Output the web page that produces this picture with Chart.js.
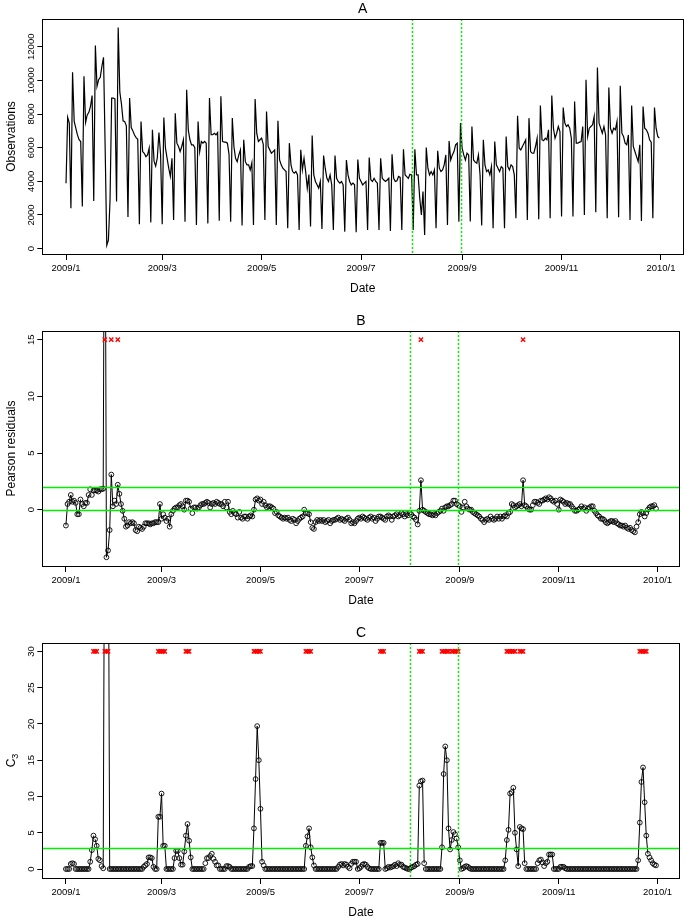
<!DOCTYPE html>
<html>
<head>
<meta charset="utf-8">
<script src="https://cdn.jsdelivr.net/npm/chart.js@4.4.1/dist/chart.umd.min.js"></script>
<style>
  html, body { margin: 0; padding: 0; background: #fff; }
  #wrap { position: relative; width: 685px; height: 918px; }
  canvas { position: absolute; left: 0; }
</style>
</head>
<body>
<div id="wrap">
  <canvas id="panelA" width="685" height="294" style="top:0px"></canvas>
  <canvas id="panelB" width="685" height="294" style="top:312px"></canvas>
  <canvas id="panelC" width="685" height="294" style="top:624px"></canvas>
</div>
<script>
// daily values, 2009-01-01 (Thu) .. 2009-12-31; rows are Sun..Sat weeks
var observations = [
  3890, 7810, 7460,
  2400, 10480, 7560, 7160, 6760, 6470, 6370,
  2500, 10240, 7500, 7950, 8100, 8450, 9100,
  2830, 12080, 9640, 10040, 10180, 10830, 11370,
  6000, 200, 500, 2900, 8950, 8950, 8900,
  2800, 13150, 9300, 8600, 7600, 7550, 7300,
  1880, 8950, 7200, 7000, 6750, 6600, 6500,
  1450, 7560, 5770, 5670, 5470, 5570, 5970,
  1560, 7060, 5200, 4900, 5400, 6900, 5600,
  1450, 7800, 5970, 5370, 4780, 4300, 5370,
  1700, 8050, 6270, 6070, 5770, 6070, 6470,
  1600, 9440, 7060, 6470, 6170, 6170, 6000,
  1400, 7560, 5770, 6370, 6270, 6370, 6270,
  1500, 8950, 6770, 6770, 6860, 6770, 6900,
  1650, 9050, 6370, 6330, 6330, 6270, 5600,
  1600, 7760, 6070, 5370, 5170, 5570, 5870,
  1370, 6470, 5170, 4980, 4980, 4680, 5100,
  1400, 8890, 6860, 6370, 6470, 6570, 6200,
  1705, 8150, 6070, 5870, 5670, 5770, 5870,
  1400, 7600, 5270, 4980, 4780, 4680, 4580,
  1210, 6270, 4980, 4580, 4480, 4580, 4380,
  1110, 5870, 4680, 5370, 4580, 3590, 4400,
  1310, 6720, 4380, 3990, 3790, 3590, 3990,
  1170, 5530, 4780, 4190, 3990, 4380, 3790,
  1110, 5530, 4180, 3990, 3890, 3990, 3790,
  1010, 5270, 4380, 3990, 3790, 3890, 3790,
  970, 5290, 4180, 3990, 3790, 3890, 3990,
  1110, 5410, 4090, 3990, 4180, 3990, 3890,
  1110, 5370, 4180, 4080, 3990, 4080, 4180,
  1050, 5610, 4180, 3990, 4030, 4290, 4230,
  1110, 5910, 4380, 4280, 4180, 4420, 4380,
  1110, 5910, 4380, 4380, 3000, 2000, 3400,
  810, 6010, 4780, 4380, 4580, 4380, 4680,
  1210, 5810, 4780, 4580, 4680, 4980, 5570,
  1400, 6400, 5270, 5570, 5770, 6170, 6270,
  1600, 7460, 5970, 5570, 5270, 5670, 5570,
  1606, 7260, 5270, 5140, 5080, 5570, 4380,
  1368, 6470, 4980, 4580, 4680, 4380, 4880,
  1209, 6370, 4980, 4780, 4580, 4880, 4780,
  1209, 6670, 4880, 4680, 4980, 4880, 4380,
  1804, 7895, 5970, 5870, 6070, 6270, 6470,
  1705, 7756, 5770, 5670, 5670, 6070, 6560,
  1745, 8510, 6470, 6410, 6560, 6470, 7060,
  1804, 9105, 7160, 6560, 6860, 7260, 6960,
  1903, 8390, 7460, 7260, 7360, 7160, 6560,
  1903, 8748, 6270, 6270, 6330, 6370, 7260,
  2002, 10038, 6670, 7160, 7260, 7360, 7860,
  2161, 10772, 7460, 7160, 6860, 7260, 6760,
  1804, 9581, 7160, 6860, 7160, 7060, 7560,
  1864, 9680, 6860, 6670, 6270, 6170, 6760,
  1705, 8510, 6070, 5770, 5470, 5170, 6170,
  1645, 8450, 7160, 7060, 6860, 6470, 6330,
  1804, 8390, 7160, 6670, 6570
];

var residuals = [
  -1.4, 0.5, 0.7,
  1.3, 0.7, 0.8, 0.6, -0.4, -0.4, 0.9,
  0.5, 0.3, 0.6, 0.6, 1.3, 1.8, 1.3,
  1.7, 1.7, 1.7, 1.6, 1.8, 1.8, 1.85,
  40, -4.2, -3.6, -1.8, 3.1, 0.3, 0.8,
  0.5, 2.2, 1.4, 0.5, -0.1, -0.8, -1.5,
  -1.4, -1.1, -1.2, -1.1, -1.2, -1.8, -1.9,
  -1.5, -1.6, -1.7, -1.5, -1.2, -1.2, -1.2,
  -1.3, -1.2, -1.2, -1.1, -1.1, -1.1, 0.5,
  -0.8, -0.4, -0.7, -1.0, -0.8, -1.5, -0.4,
  -0.1, 0.1, 0.2, 0.2, 0.4, 0.5, 0.3,
  0.0, 0.8, 0.8, 0.7, 0.1, -0.3, 0.2,
  0.2, 0.1, 0.2, 0.4, 0.5, 0.5, 0.6,
  0.7, 0.6, 0.2, 0.5, 0.6, 0.5, 0.7,
  0.6, 0.5, 0.5, 0.3, 0.7, 0.2, 0.7,
  -0.2, -0.4, -0.1, -0.3, -0.4, -0.7, -0.2,
  -0.7, -0.8, -0.6, -0.6, -0.8, -0.6, -0.5,
  -0.6, 0.0, 0.9, 1.0, 0.8, 0.9, 0.5,
  0.7, 0.4, 0.2, 0.3, 0.3, 0.2, 0.1,
  -0.3, -0.2, -0.5, -0.6, -0.7, -0.8, -0.7,
  -0.8, -0.7, -0.9, -1.0, -0.8, -0.9, -1.2,
  -1.0, -0.8, -0.7, -0.6, 0.0, -0.3, -0.3,
  -0.4, -1.1, -1.6, -1.7, -1.1, -0.9, -1.0,
  -0.9, -1.0, -0.9, -1.1, -1.0, -0.9, -1.2,
  -1.0, -0.9, -0.9, -0.8, -0.7, -0.9, -0.8,
  -0.9, -1.0, -0.8, -0.7, -0.9, -1.2, -1.1,
  -1.2, -1.0, -0.8, -0.7, -0.8, -0.6, -0.7,
  -0.8, -0.9, -0.7, -0.6, -0.8, -0.7, -1.0,
  -0.8, -0.6, -0.6, -0.7, -0.8, -0.9, -0.6,
  -0.5, -0.6, -0.9, -0.6, -0.5, -0.4, -0.6,
  -0.5, -0.3, -0.4, -0.6, -0.4, -0.5, -0.3,
  -0.4, -0.6, -0.7, -0.9, -1.3, -0.1, 2.6,
  0.0, -0.1, -0.2, -0.3, -0.4, -0.4, -0.5,
  -0.4, -0.5, -0.3, -0.2, -0.1, 0.1, -0.1,
  0.2, 0.3, 0.3, 0.4, 0.5, 0.8, 0.8,
  0.5, 0.4, 0.3, -0.2, 0.2, 0.7, 0.3,
  0.1, 0.0, 0.0, -0.2, -0.3, -0.4, -0.5,
  -0.6, -0.8, -0.9, -1.1, -0.9, -0.8, -0.9,
  -0.6, -0.8, -0.9, -0.8, -0.6, -0.8, -0.6,
  -0.8, -0.6, -0.5, -0.6, -0.3, -0.2, 0.5,
  0.4, 0.2, 0.3, 0.4, 0.5, 0.3, 2.6,
  0.4, 0.3, 0.1, 0.0, 0.0, 0.4, 0.7,
  0.7, 0.6, 0.5, 0.8, 0.8, 0.9, 1.0,
  0.9, 1.1, 1.0, 0.8, 0.7, 0.8, 0.5,
  0.0, 0.9, 0.8, 0.7, 0.5, 0.6, 0.5,
  0.5, 0.3, 0.1, -0.1, -0.1, 0.0, 0.1,
  0.3, 0.1, 0.2, -0.1, 0.1, 0.2, 0.3,
  0.3, -0.1, -0.3, -0.5, -0.6, -0.8, -0.8,
  -0.9, -1.1, -1.2, -1.1, -1.0, -1.0, -1.1,
  -1.0, -1.2, -1.3, -1.4, -1.4, -1.5, -1.4,
  -1.6, -1.7, -1.6, -1.8, -1.9, -2.0, -1.5,
  -1.1, -0.4, -0.2, -0.3, -0.6, -0.3, 0.0,
  0.2, 0.3, 0.3, 0.4, 0.1
];

var c3 = [
  0, 0, 0,
  0.7, 0.8, 0.7, 0, 0, 0, 0,
  0, 0, 0, 0, 0, 1.0, 2.6,
  4.6, 4.1, 3.2, 1.4, 1.2, 0.4, 0.1,
  60, 60, 60, 0, 0, 0, 0,
  0, 0, 0, 0, 0, 0, 0,
  0, 0, 0, 0, 0, 0, 0,
  0, 0, 0, 0.3, 0.5, 0.7, 1.6,
  1.6, 1.5, 0.3, 0, 0, 7.2, 7.2,
  10.4, 3.2, 3.2, 0, 0, 0, 0,
  0, 1.5, 2.5, 2.5, 1.5, 0.6, 0.6,
  2.4, 4.6, 6.2, 3.9, 1.6, 0, 0,
  0, 0, 0, 0, 0, 0, 0.8,
  1.5, 1.5, 1.8, 2.1, 1.4, 1.0, 0.5,
  0.5, 0, 0, 0, 0, 0.4, 0.4,
  0.3, 0, 0, 0, 0, 0, 0,
  0, 0, 0, 0, 0, 0.3, 0.4,
  0.4, 5.6, 12.4, 19.7, 15.0, 8.3, 1.0,
  0.5, 0, 0, 0, 0, 0, 0,
  0, 0, 0, 0, 0, 0, 0,
  0, 0, 0, 0, 0, 0, 0,
  0, 0, 0, 0, 0, 3.2, 4.5,
  5.6, 3.0, 1.6, 0.5, 0, 0, 0,
  0, 0, 0, 0, 0, 0, 0,
  0, 0, 0, 0, 0.3, 0.6, 0.7,
  0.5, 0.7, 0.6, 0.3, 0.1, 0.7, 1.0,
  1.0, 1.0, 0, 0.1, 0.3, 0.6, 0.7,
  0.6, 0.3, 0.1, 0, 0, 0, 0,
  0, 0, 3.6, 3.6, 3.6, 0, 0.1,
  0.3, 0.2, 0.3, 0.4, 0.6, 0.4, 0.8,
  0.6, 0.6, 0.3, 0.2, 0.1, 0, 0,
  0.2, 0.3, 0.4, 0.6, 0.7, 11.5, 12.1,
  12.2, 0.8, 0, 0, 0, 0, 0,
  0, 0, 0, 0, 0, 3.0, 13.1,
  16.9, 15.0, 5.6, 2.7, 4.0, 5.1, 4.8,
  4.2, 3.0, 1.2, 0, 0.1, 0.3, 0.4,
  0.3, 0.1, 0, 0, 0, 0, 0,
  0, 0, 0, 0, 0, 0, 0,
  0, 0, 0, 0, 0, 0, 0,
  0, 0, 1.2, 4.0, 5.4, 10.4, 10.6,
  11.2, 5.0, 2.7, 0.4, 5.8, 5.6, 5.5,
  0.8, 0, 0, 0, 0, 0, 0,
  0, 0.8, 1.2, 1.3, 0.9, 0.4, 0.8,
  1.0, 2.0, 2.0, 2.0, 0, 0, 0,
  0, 0.3, 0.3, 0.3, 0.1, 0, 0,
  0, 0, 0, 0, 0, 0, 0,
  0, 0, 0, 0, 0, 0, 0,
  0, 0, 0, 0, 0, 0, 0,
  0, 0, 0, 0, 0, 0, 0,
  0, 0, 0, 0, 0, 0, 0,
  0, 0, 0, 0, 0, 0, 0,
  1.2, 6.4, 12.0, 14.0, 9.2, 4.6, 2.1,
  1.6, 1.2, 0.8, 0.6, 0.5
];

var tickDays = [0, 59, 120, 181, 243, 304, 365];
var tickLabels = ['2009/1', '2009/3', '2009/5', '2009/7', '2009/9', '2009/11', '2010/1'];
var markDays = [212, 242];          // dotted verticals (2009-08-01, 2009-08-31)
var residualLimit = 2;
var residualAlarmLevel = 15;
var c3Threshold = 2.86;
var c3AlarmLevel = 30;

var fontFamily = '"Liberation Sans", Arial, Helvetica, sans-serif';
var refGreen = '#00ee00';
var circleRadius = 2.4;
var xMin = -14.56, xMax = 378.56;

function toPoints(arr) {
  return arr.map(function (v, i) { return { x: i, y: v }; });
}
function alarms(arr, limit, level) {
  var out = [];
  arr.forEach(function (v, i) { if (v > limit) out.push({ x: i, y: level }); });
  return out;
}
// R type="b": no line piece between points that sit closer than a circle
function gapColor(ctx) {
  var dx = ctx.p1.x - ctx.p0.x, dy = ctx.p1.y - ctx.p0.y;
  return Math.sqrt(dx * dx + dy * dy) < 2 * circleRadius + 1.5 ? 'rgba(0,0,0,0)' : '#000';
}

var panelDecor = {
  id: 'panelDecor',
  afterDatasetsDraw: function (chart, args, opts) {
    var g = chart.ctx, a = chart.chartArea, xs = chart.scales.x, ys = chart.scales.y;
    var midX = (a.left + a.right) / 2, midY = (a.top + a.bottom) / 2;

    g.save();
    g.beginPath();
    g.rect(a.left, a.top, a.right - a.left, a.bottom - a.top);
    g.clip();
    g.strokeStyle = refGreen;
    g.lineWidth = 1.5;
    (opts.hLines || []).forEach(function (v) {
      var y = Math.round(ys.getPixelForValue(v)) + 0.5;
      g.beginPath(); g.moveTo(a.left, y); g.lineTo(a.right, y); g.stroke();
    });
    g.setLineDash([2, 2]);
    markDays.forEach(function (d) {
      var x = Math.round(xs.getPixelForValue(d)) + 0.5;
      g.beginPath(); g.moveTo(x, a.top); g.lineTo(x, a.bottom); g.stroke();
    });
    g.restore();

    g.save();
    g.strokeStyle = '#000';
    g.lineWidth = 1;
    g.strokeRect(Math.round(a.left) + 0.5, Math.round(a.top) + 0.5,
      Math.round(a.right - a.left), Math.round(a.bottom - a.top));
    g.fillStyle = '#000';
    g.textAlign = 'center';
    g.textBaseline = 'alphabetic';
    g.font = '14px ' + fontFamily;
    g.fillText(opts.letter, midX, 12.5);
    g.font = '12px ' + fontFamily;
    g.fillText('Date', midX, 291.5);

    g.font = '9.5px ' + fontFamily;
    ys.ticks.forEach(function (t) {
      var y = ys.getPixelForValue(t.value);
      g.save();
      g.translate(a.left - 8, y);
      g.rotate(-Math.PI / 2);
      g.fillText(String(t.value), 0, 0);
      g.restore();
    });

    g.translate(14.5, midY);
    g.rotate(-Math.PI / 2);
    g.font = '12px ' + fontFamily;
    if (opts.subscript) {
      var w1 = g.measureText(opts.yTitle).width;
      g.font = '9px ' + fontFamily;
      var w2 = g.measureText(opts.subscript).width;
      g.textAlign = 'left';
      g.font = '12px ' + fontFamily;
      g.fillText(opts.yTitle, -(w1 + w2) / 2, 0);
      g.font = '9px ' + fontFamily;
      g.fillText(opts.subscript, -(w1 + w2) / 2 + w1, 3);
    } else {
      g.fillText(opts.yTitle, 0, 0);
    }
    g.restore();
  }
};

function makePanel(id, datasets, yMin, yMax, yTicks, decor) {
  return new Chart(document.getElementById(id), {
    type: 'line',
    data: { datasets: datasets },
    options: {
      responsive: false,
      animation: false,
      layout: { padding: { top: 19, right: 1.9, left: 0, bottom: 0 } },
      plugins: { legend: { display: false }, tooltip: { enabled: false }, panelDecor: decor },
      scales: {
        x: {
          type: 'linear', min: xMin, max: xMax,
          afterBuildTicks: function (s) { s.ticks = tickDays.map(function (v) { return { value: v }; }); },
          afterFit: function (s) { s.height = 40; },
          grid: { drawOnChartArea: false, drawTicks: true, tickLength: 6, color: '#000', tickColor: '#000' },
          border: { display: false },
          ticks: {
            autoSkip: false, maxRotation: 0, minRotation: 0, padding: 3, color: '#000',
            font: { family: fontFamily, size: 9.5 },
            callback: function (v, i) { return tickLabels[i]; }
          }
        },
        y: {
          type: 'linear', min: yMin, max: yMax,
          afterBuildTicks: function (s) { s.ticks = yTicks.map(function (v) { return { value: v }; }); },
          afterFit: function (s) { s.width = 42.3; },
          grid: { drawOnChartArea: false, drawTicks: true, tickLength: 5, color: '#000', tickColor: '#000' },
          border: { display: false },
          ticks: { display: false }
        }
      }
    },
    plugins: [panelDecor]
  });
}

function circleSeries(arr) {
  return {
    type: 'line', data: toPoints(arr), borderColor: '#000', borderWidth: 1, tension: 0,
    pointRadius: circleRadius, pointBorderWidth: 0.9, pointStyle: 'circle',
    pointBackgroundColor: 'rgba(0,0,0,0)', pointBorderColor: '#000',
    segment: { borderColor: gapColor }
  };
}
function crossSeries(points) {
  return {
    type: 'scatter', data: points, showLine: false, pointStyle: 'crossRot',
    pointRadius: 3, pointBorderWidth: 1.4, pointBorderColor: '#ff0000', borderColor: '#ff0000'
  };
}

makePanel('panelA', [{
  type: 'line', data: toPoints(observations), borderColor: '#000', borderWidth: 1.2,
  pointRadius: 0, tension: 0
}], -320, 13650, [0, 2000, 4000, 6000, 8000, 10000, 12000],
  { letter: 'A', yTitle: 'Observations' });

makePanel('panelB', [
  crossSeries(alarms(residuals, residualLimit, residualAlarmLevel)),
  circleSeries(residuals)
], -4.97, 15.77, [0, 5, 10, 15],
  { letter: 'B', yTitle: 'Pearson residuals', hLines: [0, residualLimit] });

makePanel('panelC', [
  crossSeries(alarms(c3, c3Threshold, c3AlarmLevel)),
  circleSeries(c3)
], -1.24, 31.16, [0, 5, 10, 15, 20, 25, 30],
  { letter: 'C', yTitle: 'C', subscript: '3', hLines: [c3Threshold] });
</script>
</body>
</html>
